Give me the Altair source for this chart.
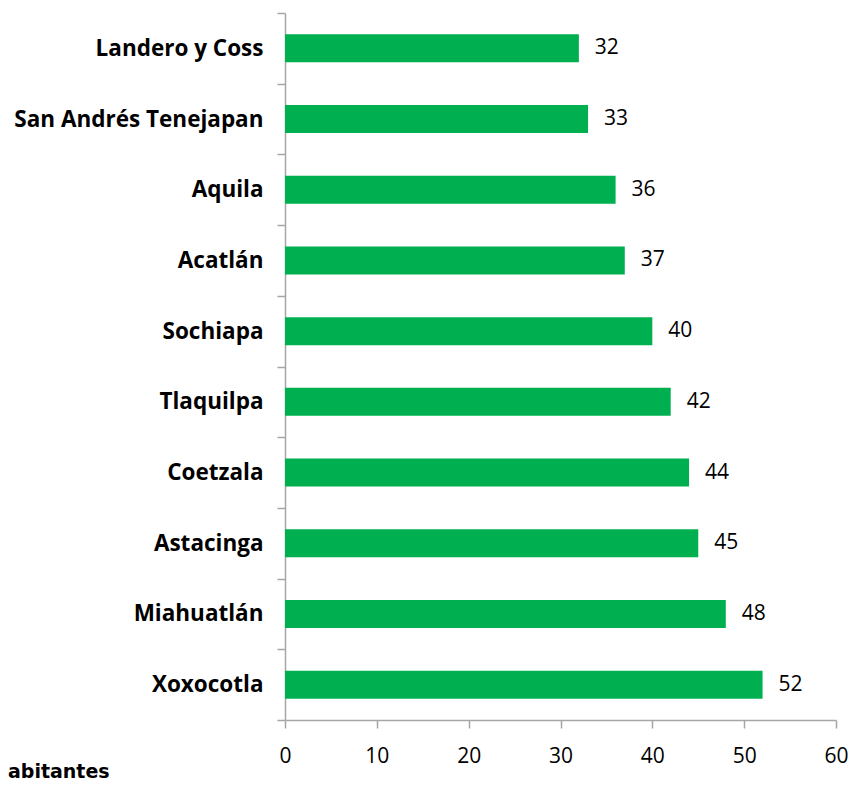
import altair as alt
import pandas as pd

municipios = ["Landero y Coss", "San Andrés Tenejapan", "Aquila", "Acatlán", "Sochiapa",
              "Tlaquilpa", "Coetzala", "Astacinga", "Miahuatlán", "Xoxocotla"]
valores = [32, 33, 36, 37, 40, 42, 44, 45, 48, 52]
x_ticks = [0, 10, 20, 30, 40, 50, 60]
titulo = "abitantes"

df = pd.DataFrame({"municipio": municipios, "valor": valores})

axis_color = "#a6a6a6"

y_enc = alt.Y("municipio:N", sort=municipios, title=None,
              scale=alt.Scale(paddingInner=0, paddingOuter=0),
              axis=alt.Axis(labelFont="Open Sans", labelFontWeight="bold", labelFontSize=22.5,
                            labelColor="#000000", labelPadding=14, tickSize=8, labelLimit=400,
                            tickBand="extent", tickColor=axis_color, domainColor=axis_color,
                            tickWidth=1.5, domainWidth=1.5))
x_enc = alt.X("valor:Q", title=None,
              scale=alt.Scale(domain=[0, 60], nice=False),
              axis=alt.Axis(values=x_ticks, grid=False, labelFont="Open Sans", labelFontSize=21,
                            labelColor="#000000", labelPadding=17, tickSize=8,
                            labelFlush=False, labelOverlap=False, labelBound=False,
                            tickColor=axis_color, domainColor=axis_color,
                            tickWidth=1.5, domainWidth=1.5))

base = alt.Chart(df)
bars = base.mark_bar(color="#00b050", size=28).encode(x=x_enc, y=y_enc)
labels = base.mark_text(align="left", baseline="middle", dx=16, font="Open Sans",
                        fontSize=21, color="#000000").encode(
    x="valor:Q", y=alt.Y("municipio:N", sort=municipios), text="valor:Q")

chart = alt.layer(bars, labels).properties(
    width=551, height=707,
    autosize=alt.AutoSizeParams(type="none"),
    padding={"left": 277, "top": 5, "right": 12, "bottom": 62},
    title=alt.TitleParams(text=titulo, orient="bottom", anchor="start", frame="group",
                          dx=-277, offset=-3, font="DejaVu Sans", fontWeight="bold",
                          fontSize=19, color="#000000"),
).configure_view(stroke=None)

chart.save("out.html", embed_options={"renderer": "svg", "actions": False})
